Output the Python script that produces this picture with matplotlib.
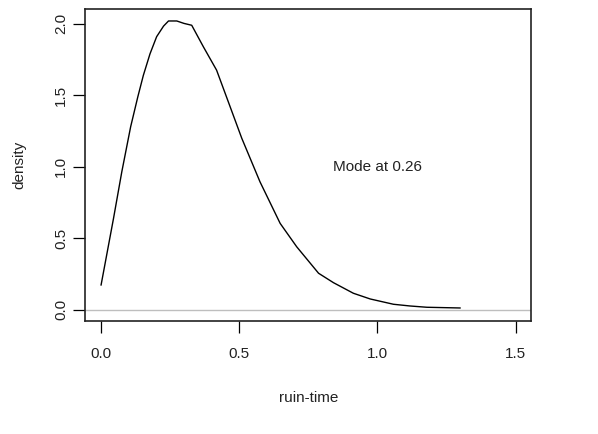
import matplotlib
matplotlib.use("Agg")
import matplotlib.pyplot as plt

# ruin-time density curve
ruin_time = [0.0, 0.045, 0.075, 0.107, 0.133, 0.153, 0.177, 0.201, 0.226, 0.244,
             0.274, 0.300, 0.328, 0.370, 0.418, 0.467, 0.509, 0.575, 0.648, 0.708,
             0.787, 0.841, 0.913, 0.974, 1.058, 1.118, 1.179, 1.299]
density = [0.173, 0.639, 0.965, 1.28, 1.49, 1.64, 1.79, 1.91, 1.984, 2.02,
           2.02, 2.003, 1.99, 1.84, 1.676, 1.42, 1.20, 0.895, 0.604, 0.44,
           0.255, 0.189, 0.115, 0.075, 0.038, 0.026, 0.017, 0.012]
mode_value = 0.26
x_ticks = [0.0, 0.5, 1.0, 1.5]
y_ticks = [0.0, 0.5, 1.0, 1.5, 2.0]

plt.rcParams["font.family"] = ["Liberation Sans", "DejaVu Sans"]
fs = 11

fig = plt.figure(figsize=(5.98, 4.34), dpi=100)
ax = fig.add_axes([0.1427, 0.2604, 0.7458, 0.7186])

ax.plot(ruin_time, density, color="black", linewidth=1.0)
ax.axhline(0, color="#bebebe", linewidth=1.0)
ax.text(1.0, 1.0, "Mode at %.2f" % mode_value, ha="center", va="center",
        fontsize=fs, color="#222222")

ax.set_xlim(-0.057, 1.557)
ax.set_ylim(-0.079, 2.103)
ax.set_xticks(x_ticks)
ax.set_xticklabels(["%.1f" % v for v in x_ticks])
ax.set_yticks(y_ticks)
ax.set_yticklabels(["%.1f" % v for v in y_ticks], rotation=90, va="center")

ax.tick_params(axis="both", direction="out", length=8.5, width=0.9,
               labelsize=fs, colors="black", labelcolor="#222222")
ax.tick_params(axis="x", pad=10)
ax.tick_params(axis="y", pad=4)
for s in ax.spines.values():
    s.set_linewidth(1.2)
    s.set_color("#222222")

ax.set_xlabel("ruin-time", fontsize=fs, labelpad=22, color="#222222")
ax.set_ylabel("density", fontsize=fs, labelpad=20, color="#222222")

fig.savefig("out.png", dpi=100)
